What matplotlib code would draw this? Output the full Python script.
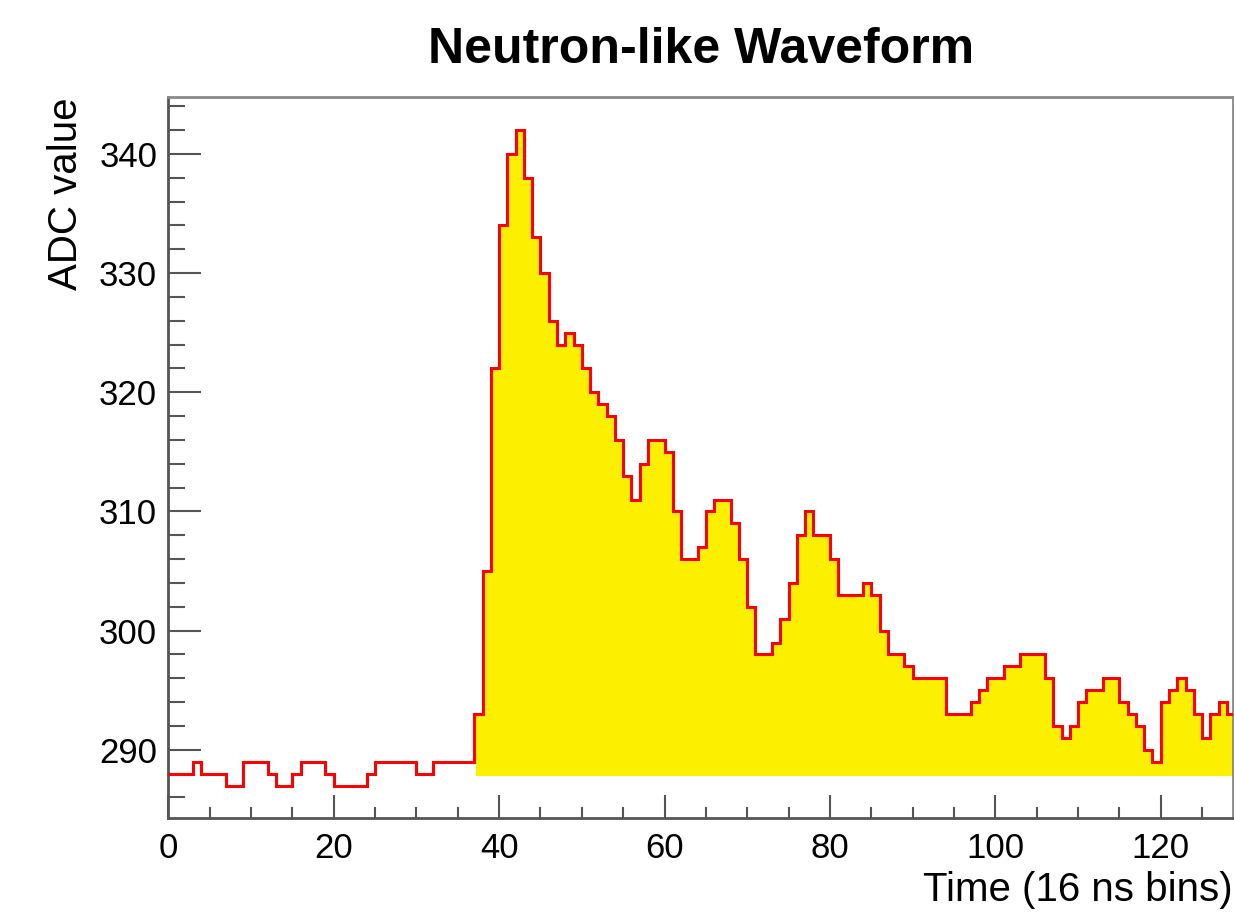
import numpy as np
import matplotlib
matplotlib.use("Agg")
import matplotlib.pyplot as plt
from matplotlib.ticker import MultipleLocator
import matplotlib.transforms as mtransforms

# ---- data (ADC value per 16 ns bin) ----
adc_values = [
    288, 288, 288, 289, 288, 288, 288, 287, 287, 289,
    289, 289, 288, 287, 287, 288, 289, 289, 289, 288,
    287, 287, 287, 287, 288, 289, 289, 289, 289, 289,
    288, 288, 289, 289, 289, 289, 289, 293, 305, 322,
    334, 340, 342, 338, 333, 330, 326, 324, 325, 324,
    322, 320, 319, 318, 316, 313, 311, 314, 316, 316,
    315, 310, 306, 306, 307, 310, 311, 311, 309, 306,
    302, 298, 298, 299, 301, 304, 308, 310, 308, 308,
    306, 303, 303, 303, 304, 303, 300, 298, 298, 297,
    296, 296, 296, 296, 293, 293, 293, 294, 295, 296,
    296, 297, 297, 298, 298, 298, 296, 292, 291, 292,
    294, 295, 295, 296, 296, 294, 293, 292, 290, 289,
    294, 295, 296, 295, 293, 291, 293, 294, 293,
]
pulse_start_bin = 37
fill_baseline = 288

title_text = "Neutron-like Waveform"
x_label = "Time (16 ns bins)"
y_label = "ADC value"
x_ticks = [0, 20, 40, 60, 80, 100, 120]
y_ticks = [290, 300, 310, 320, 330, 340]

plt.rcParams['font.family'] = ['Liberation Sans', 'DejaVu Sans']

W, H = 1234, 921
fig = plt.figure(figsize=(W / 100, H / 100), dpi=100)
left, right, top, bottom = 168.3, 1232.7, 97.3, 818.3
ax = fig.add_axes([left / W, 1 - bottom / H, (right - left) / W, (bottom - top) / H])

vals = np.array(adc_values, dtype=float)
edges = np.arange(len(vals) + 1)

# yellow fill of the pulse region (slightly offset, as in the rendering)
off = mtransforms.ScaledTranslation(1.5 / 100, -2.0 / 100, fig.dpi_scale_trans)
ax.stairs(vals[pulse_start_bin:], edges[pulse_start_bin:], baseline=fill_baseline,
          fill=True, color='#fdef00', lw=0, zorder=1,
          transform=ax.transData + off)
# red outline
ax.stairs(vals, edges, baseline=None, color='#ff0000', lw=2.2, zorder=3)

ax.set_xlim(0, 128.7)
ax.set_ylim(284.25, 344.75)

ax.set_xticks(x_ticks)
ax.set_yticks(y_ticks)
ax.xaxis.set_minor_locator(MultipleLocator(5))
ax.yaxis.set_minor_locator(MultipleLocator(2))

ax.tick_params(axis='both', which='both', direction='in', colors='#555555',
               labelcolor='black', labelsize=25, width=1.5)
ax.tick_params(axis='y', which='major', length=24, pad=8)
ax.tick_params(axis='y', which='minor', length=12)
ax.tick_params(axis='x', which='major', length=16.5, pad=10)
ax.tick_params(axis='x', which='minor', length=8)
ax.tick_params(top=False, right=False)

for s in ['left', 'bottom']:
    ax.spines[s].set_color('#555555')
    ax.spines[s].set_linewidth(2.0)
for s in ['top', 'right']:
    ax.spines[s].set_color('#8a8a8a')
    ax.spines[s].set_linewidth(2.0)

ax.set_xlabel(x_label, fontsize=29, loc='right', labelpad=4)
ax.set_ylabel(y_label, fontsize=29, loc='top', labelpad=10)

fig.text(0.568, 1 - 50 / H, title_text, fontsize=36, fontweight='bold',
         ha='center', va='center')

fig.savefig('out.png', dpi=100, facecolor='white')
